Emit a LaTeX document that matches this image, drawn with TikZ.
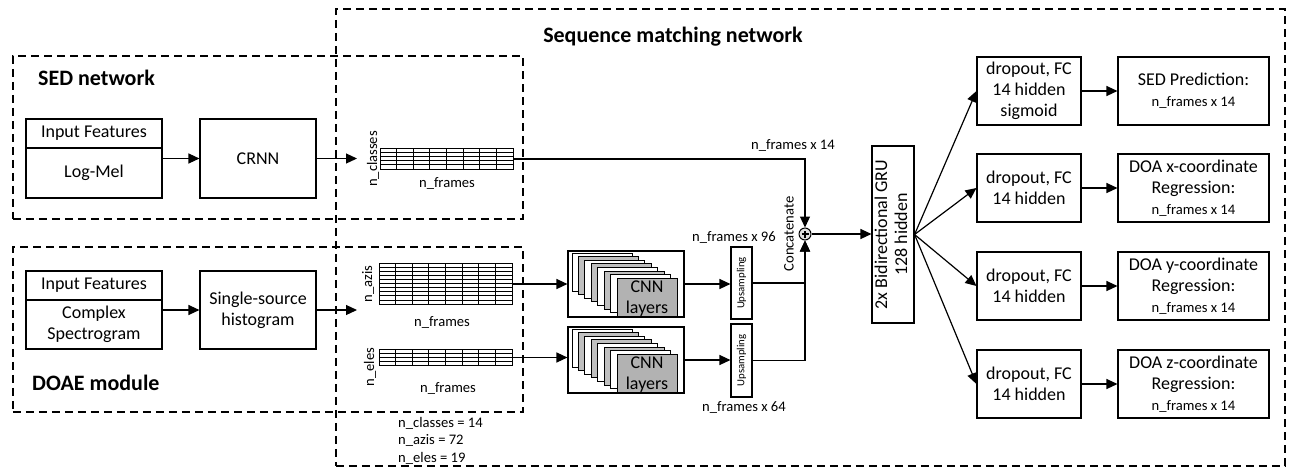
\documentclass[tikz,border=0pt]{standalone}
\usepackage{fontspec}
\usepackage{graphicx}
\setmainfont{Carlito}
\usetikzlibrary{arrows.meta}
\newcommand\fsz[2]{\fontsize{#1}{#2}\selectfont}
\definecolor{lgr}{RGB}{191,191,191}
\definecolor{dgr}{RGB}{178,178,178}
\begin{document}
\begin{tikzpicture}[x=1pt,y=-1pt,
  dbox/.style={draw,dash pattern=on 8pt off 5pt,line width=1.6pt,inner sep=0pt},
  blk/.style={draw,line width=1.1pt,fill=white,inner sep=0pt,align=center,font=\fsz{18}{21}},
  arr/.style={line width=1.2pt,-{Triangle[length=11pt,width=10pt]}},
  sm/.style={font=\fsz{14.6}{17},inner sep=0pt},
  grd/.style={draw,line width=1pt,inner sep=0pt,anchor=north west},
  gl/.style={line width=0.8pt},
  stk/.style={draw,line width=0.9pt},
  ttl/.style={font=\fsz{22}{26}\bfseries,inner sep=0pt}]
\useasboundingbox (0,0) rectangle (1292,469);
% group boxes
\node[dbox,minimum width=949,minimum height=457,anchor=north west] (seq) at (335,8) {};
\node[dbox,minimum width=510,minimum height=163,anchor=north west] (sed) at (12,55) {};
\node[dbox,minimum width=510,minimum height=165,anchor=north west] (doae) at (12,246) {};
\node[ttl] (seqt) at (673,37) {Sequence matching network};
\node[ttl,anchor=west] (sedt) at (38,78) {SED network};
\node[ttl,anchor=west] (doaet) at (32,383) {DOAE module};
% SED branch
\node[blk,minimum width=136,minimum height=29] (inA) at (94,133.5) {Input Features};
\node[blk,minimum width=136,minimum height=50] (inB) at (94,173) {Log-Mel};
\node[blk,minimum width=116,minimum height=79] (crnn) at (258,158.5) {CRNN};
% DOAE branch
\node[blk,minimum width=136,minimum height=29] (dinA) at (94,285.5) {Input Features};
\node[blk,minimum width=136,minimum height=49] (dinB) at (94,324.5) {Complex\\Spectrogram};
\node[blk,minimum width=116,minimum height=78] (hist) at (258,310) {Single-source\\histogram};
\coordinate (sedin) at (357,158.5);
\coordinate (doain) at (357,310);
% grids
\node[grd,minimum width=133,minimum height=21] (sedg) at (380,148) {};
\foreach \i in {1,...,7} \draw[gl] (380+\i*16.625,148) -- ++(0,21);
\foreach \j in {1,...,4} \draw[gl] (380,148+\j*4.2) -- ++(133,0);
\node[grd,minimum width=133,minimum height=41] (azg) at (379,263) {};
\foreach \i in {1,...,7} \draw[gl] (379+\i*16.625,263) -- ++(0,41);
\foreach \j in {1,...,9} \draw[gl] (379,263+\j*4.1) -- ++(133,0);
\node[grd,minimum width=133,minimum height=16] (elg) at (379,349) {};
\foreach \i in {1,...,7} \draw[gl] (379+\i*16.625,349) -- ++(0,16);
\foreach \j in {1,...,3} \draw[gl] (379,349+\j*4) -- ++(133,0);
\node[sm,rotate=90] (lcl) at (373,159) {n\_classes};
\node[sm] (lf1) at (447,183) {n\_frames};
\node[sm,rotate=90] (laz) at (368,284) {n\_azis};
\node[sm] (lf2) at (442,322) {n\_frames};
\node[sm,rotate=90] (lel) at (370,367) {n\_eles};
\node[sm] (lf3) at (448,388) {n\_frames};
\node[sm,anchor=west] (lg1) at (398,423) {n\_classes = 14};
\node[sm,anchor=west] (lg2) at (398,440) {n\_azis = 72};
\node[sm,anchor=west] (lg3) at (398,458) {n\_eles = 19};
% CNN boxes
\node[blk,minimum width=116,minimum height=66] (cnn1) at (626,284) {};
\foreach \k/\c in {0/white,1/lgr,2/white,3/lgr,4/white,5/lgr,6/white}
  \draw[stk,fill=\c] (572+\k*6.4,253+\k*3.6) rectangle ++(60,38);
\node[stk,fill=dgr,minimum width=60,minimum height=38,anchor=north west,inner sep=0pt] (cl1) at (616.8,278.2) {};
\node[font=\fsz{18}{21},align=center,inner sep=0pt] (ct1) at (647,299) {CNN\\layers};
\node[blk,minimum width=116,minimum height=66] (cnn2) at (626,360) {};
\foreach \k/\c in {0/white,1/lgr,2/white,3/lgr,4/white,5/lgr,6/white}
  \draw[stk,fill=\c] (572+\k*6.4,329+\k*3.6) rectangle ++(60,38);
\node[stk,fill=dgr,minimum width=60,minimum height=38,anchor=north west,inner sep=0pt] (cl2) at (616.8,354.2) {};
\node[font=\fsz{18}{21},align=center,inner sep=0pt] (ct2) at (647,375) {CNN\\layers};
% upsampling
\node[blk,minimum width=21,minimum height=72,font=\fsz{10.8}{12}] (up1) at (741.5,283) {\rotatebox{90}{Upsampling}};
\node[blk,minimum width=21,minimum height=73,font=\fsz{10.8}{12}] (up2) at (741.5,360.5) {\rotatebox{90}{Upsampling}};
\node[sm] (l14) at (793,145) {n\_frames x 14};
\node[sm] (l96) at (734,237) {n\_frames x 96};
\node[sm] (l64) at (744,407) {n\_frames x 64};
\node[sm,rotate=90] (lcat) at (789,234) {Concatenate};
% concat
\node[circle,draw,line width=1pt,fill=gray!25,minimum size=12,inner sep=0pt] (cat) at (805,234) {};
\draw[line width=1.3pt] ([xshift=-3.5pt]cat.center) -- ([xshift=3.5pt]cat.center);
\draw[line width=1.3pt] ([yshift=-3.5pt]cat.center) -- ([yshift=3.5pt]cat.center);
% GRU
\node[blk,minimum width=42,minimum height=177] (gru) at (893,234.5)
  {\rotatebox{90}{\fsz{18}{20}\begin{tabular}{@{}c@{}}2x Bidirectional GRU\\128 hidden\end{tabular}}};
% heads
\node[blk,minimum width=104,minimum height=68] (d1) at (1029,91) {dropout, FC\\14 hidden\\sigmoid};
\node[blk,minimum width=104,minimum height=68] (d2) at (1029,188) {dropout, FC\\14 hidden};
\node[blk,minimum width=104,minimum height=68] (d3) at (1029,286) {dropout, FC\\14 hidden};
\node[blk,minimum width=104,minimum height=68] (d4) at (1029,384) {dropout, FC\\14 hidden};
\node[blk,minimum width=151,minimum height=68] (o1) at (1193.5,91) {SED Prediction:\\{\fsz{14.6}{17}n\_frames x 14}};
\node[blk,minimum width=151,minimum height=68] (o2) at (1193.5,188) {DOA x-coordinate\\Regression:\\{\fsz{14.6}{17}n\_frames x 14}};
\node[blk,minimum width=151,minimum height=68] (o3) at (1193.5,286) {DOA y-coordinate\\Regression:\\{\fsz{14.6}{17}n\_frames x 14}};
\node[blk,minimum width=151,minimum height=68] (o4) at (1193.5,384) {DOA z-coordinate\\Regression:\\{\fsz{14.6}{17}n\_frames x 14}};
% connectors
\draw[arr] (inB.east |- crnn.west) -- (crnn.west);
\draw[arr] (crnn.east) -- (sedin);
\draw[arr] (dinB.east |- hist.west) -- (hist.west);
\draw[arr] (hist.east) -- (doain);
\draw[arr] (azg.east |- cnn1.west) -- (cnn1.west);
\draw[arr] (elg.east) -- (elg.east -| cnn2.west);
\draw[arr] (cnn1.east) -- (cnn1.east -| up1.west);
\draw[arr] (cnn2.east) -- (cnn2.east -| up2.west);
\draw[arr] (sedg.east) -| (cat.north);
\draw[arr] (up1.east) -| (cat.south);
\draw[arr] (up2.east) -| (cat.south);
\draw[arr] (cat.east) -- (cat.east -| gru.west);
\foreach \i in {1,...,4} {
  \draw[arr] (gru.east) -- (d\i.west);
  \draw[arr] (d\i.east) -- (o\i.west);
}
\end{tikzpicture}
\end{document}
